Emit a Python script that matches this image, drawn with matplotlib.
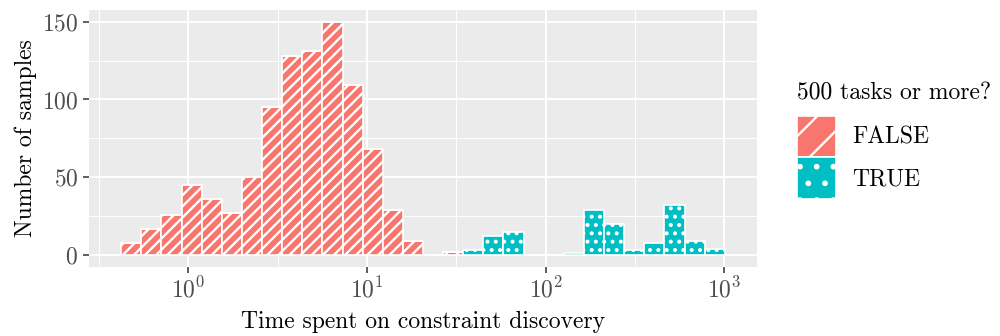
import numpy as np
import matplotlib
matplotlib.use("Agg")
import matplotlib.pyplot as plt
from matplotlib.patches import Patch
from matplotlib.ticker import FixedLocator, NullFormatter, LogFormatterMathtext

# 30 log-spaced bins between these times (seconds)
log_lo = -0.376
log_hi = 3.003
n_bins = 30

# counts per bin, stacked: FALSE below, TRUE on top
false_counts = [8, 17, 26, 45, 36, 27, 50, 95, 128, 131, 150, 109, 68, 29, 9,
                0, 2, 0, 0, 0, 0, 0, 0, 0, 0, 0, 0, 0, 0, 0]
true_counts = [0, 0, 0, 0, 0, 0, 0, 0, 0, 0, 0, 0, 0, 0, 0,
               0, 0, 3, 12, 15, 0, 0, 1, 29, 20, 3, 8, 32, 9, 4]
groups = ['FALSE', 'TRUE']
colors = ['#F8766D', '#00BFC4']

plt.rcParams['font.family'] = ['cmr10', 'DejaVu Serif']
plt.rcParams['mathtext.fontset'] = 'cm'
plt.rcParams['axes.formatter.use_mathtext'] = True
plt.rcParams['hatch.linewidth'] = 1.7

edges = np.logspace(log_lo, log_hi, n_bins + 1)
widths = np.diff(edges)

fig = plt.figure(figsize=(10, 3.36), dpi=100)
ax = fig.add_axes([0.089, 1 - 266.7 / 336, 0.668, 256.7 / 336])
ax.set_facecolor('#EBEBEB')
ax.set_axisbelow(True)

ax.bar(edges[:-1], false_counts, width=widths, align='edge', color=colors[0],
       edgecolor='white', linewidth=1.2, hatch='///')
ax.bar(edges[:-1], true_counts, width=widths, bottom=false_counts, align='edge',
       color=colors[1], edgecolor='white', linewidth=1.2, hatch='..')

ax.set_xscale('log')
ax.set_xlim(10 ** -0.556, 10 ** 3.183)
ax.set_ylim(-7.5, 157.5)
ax.xaxis.set_major_locator(FixedLocator([1, 10, 100, 1000]))
ax.xaxis.set_major_formatter(LogFormatterMathtext())
ax.xaxis.set_minor_locator(FixedLocator(10 ** np.array([-0.5, 0.5, 1.5, 2.5])))
ax.xaxis.set_minor_formatter(NullFormatter())
ax.yaxis.set_major_locator(FixedLocator([0, 50, 100, 150]))
ax.yaxis.set_minor_locator(FixedLocator([25, 75, 125]))
ax.tick_params(which='major', length=4.3, width=1.1, color='#333333',
               labelcolor='#4D4D4D', labelsize=17, pad=3.5)
ax.tick_params(which='minor', length=0)
ax.grid(which='major', color='white', linewidth=1.4)
ax.grid(which='minor', color='white', linewidth=0.7)
for s in ax.spines.values():
    s.set_visible(False)

ax.set_xlabel('Time spent on constraint discovery', fontsize=17)
ax.xaxis.set_label_coords(0.5, -0.172)
ax.set_ylabel('Number of samples', fontsize=17)
ax.yaxis.set_label_coords(-0.078, 0.5)

# legend keys with a coarser pattern, like the ggplot keys
with plt.rc_context({'hatch.linewidth': 3.5}):
    handles = [Patch(facecolor=colors[0], edgecolor='white', linewidth=1.2, hatch='/'),
               Patch(facecolor=colors[1], edgecolor='white', linewidth=1.2, hatch='.')]
leg = ax.legend(handles, groups, title='500 tasks or more?', loc='upper left',
                bbox_to_anchor=(0.797, 0.755), bbox_transform=fig.transFigure,
                frameon=False, fontsize=17, title_fontsize=17, handlelength=1.65,
                handleheight=2.35, handletextpad=0.7, labelspacing=0, borderpad=0,
                borderaxespad=0, alignment='left')
leg._legend_box.sep = 8

fig.savefig('out.png', dpi=100)
